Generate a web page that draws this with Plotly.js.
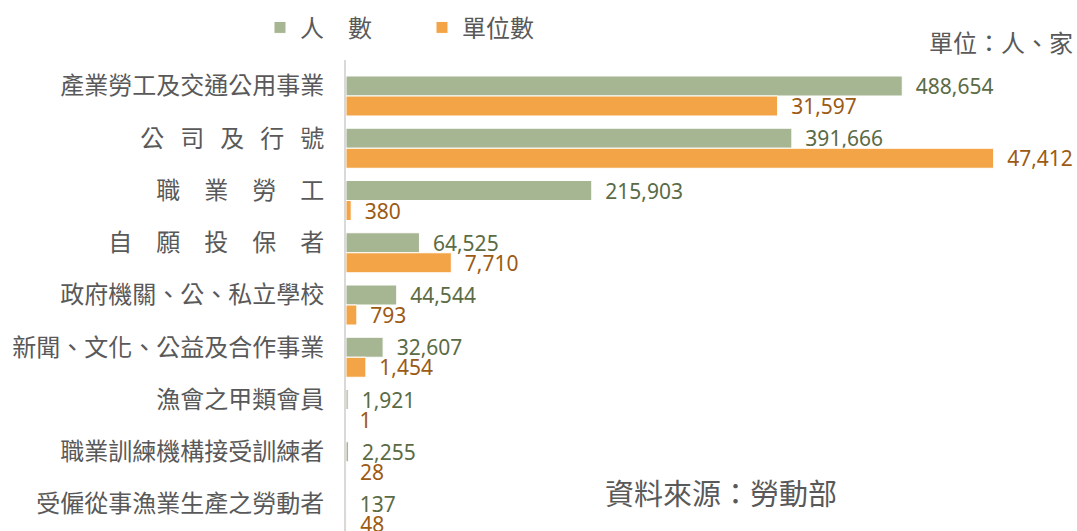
<!DOCTYPE html>
<html>
<head>
<meta charset="utf-8">
<script src="https://cdn.plot.ly/plotly-3.0.1.min.js"></script>
<style>html,body{margin:0;padding:0;background:#fff;}#chart{width:1077px;height:531px;}</style>
</head>
<body>
<div id="chart"></div>
<script>
const categories = ["產業勞工及交通公用事業","公司及行號","職業勞工","自願投保者","政府機關、公、私立學校","新聞、文化、公益及合作事業","漁會之甲類會員","職業訓練機構接受訓練者","受僱從事漁業生產之勞動者"];
const tickLabels = ["產業勞工及交通公用事業","公\u2004\u2004司\u2004\u2004及\u2004\u2004行\u2004\u2004號","職\u3000業\u3000勞\u3000工","自\u3000願\u3000投\u3000保\u3000者","政府機關、公、私立學校","新聞、文化、公益及合作事業","漁會之甲類會員","職業訓練機構接受訓練者","受僱從事漁業生產之勞動者"];
const people = [488654,391666,215903,64525,44544,32607,1921,2255,137];
const units = [31597,47412,380,7710,793,1454,1,28,48];
const seriesNames = ["人\u3000數","單位數"];

const cjk = '"Noto Sans CJK TC", "Noto Sans CJK SC", sans-serif';
const num = '"Noto Sans", "Open Sans", sans-serif';
const gray = '#595959';

const traces = [
  {type:'bar', orientation:'h', name:seriesNames[0], y:categories, x:people, xaxis:'x', yaxis:'y',
   width:0.383, offset:-0.383,
   marker:{color:'#a6b592', line:{color:'#ffffff', width:1}},
   texttemplate:'\u2002%{x:,}', textposition:'outside', cliponaxis:false, constraintext:'none',
   textfont:{family:num, size:21, color:'#5a6b45'}, hoverinfo:'skip'},
  {type:'bar', orientation:'h', name:seriesNames[1], y:categories, x:units, xaxis:'x2', yaxis:'y',
   width:0.383, offset:0,
   marker:{color:'#f3a446', line:{color:'#ffffff', width:1}},
   texttemplate:'\u2002%{x:,}', textposition:'outside', cliponaxis:false, constraintext:'none',
   textfont:{family:num, size:21, color:'#9c5a14'}, hoverinfo:'skip'}
];

const layout = {
  width:1077, height:531,
  margin:{l:346, r:48, t:60, b:0},
  paper_bgcolor:'#ffffff', plot_bgcolor:'#ffffff',
  showlegend:true,
  legend:{orientation:'h', xref:'container', yref:'container', x:0.2414, y:0.99, xanchor:'left', yanchor:'top',
          font:{family:cjk, size:24, color:gray}, itemwidth:30, entrywidth:117, traceorder:'normal'},
  barmode:'overlay',
  xaxis:{range:[0,600000], visible:false, fixedrange:true},
  xaxis2:{range:[0,50000], overlaying:'x', visible:false, fixedrange:true},
  yaxis:{type:'category', range:[8.325,-0.689], tickvals:categories, ticktext:tickLabels,
         showline:true, linecolor:'#d9d9d9', linewidth:2, showgrid:false, zeroline:false, ticks:'',
         ticklabelstandoff:15, ticklabelshift:10,
         tickfont:{family:cjk, size:24, color:gray}},
  annotations:[
    {text:'單位：人、家', xref:'paper', yref:'paper', x:1.068, y:1.04, xanchor:'right', yanchor:'middle', showarrow:false,
     font:{family:cjk, size:24, color:gray}},
    {text:'資料來源：勞動部', xref:'paper', yref:'paper', x:0.549, y:0.083, xanchor:'center', yanchor:'middle', showarrow:false,
     font:{family:cjk, size:29, color:gray}}
  ]
};

Plotly.newPlot('chart', traces, layout, {displayModeBar:false, staticPlot:true});
</script>
</body>
</html>
